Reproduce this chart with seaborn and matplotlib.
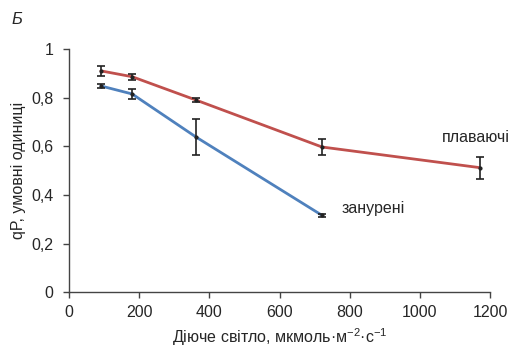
import matplotlib
matplotlib.use("Agg")
import matplotlib.pyplot as plt
import seaborn as sns
import pandas as pd

sns.set_style("ticks")
plt.rcParams['font.family'] = ['Liberation Sans', 'DejaVu Sans']
plt.rcParams['mathtext.fontset'] = 'custom'
plt.rcParams['mathtext.rm'] = 'Liberation Sans'
plt.rcParams['mathtext.it'] = 'Liberation Sans:italic'

# Data
float_x = [91, 180, 362, 721, 1171]
float_y = [0.910, 0.886, 0.790, 0.597, 0.512]
float_err = [0.020, 0.012, 0.010, 0.033, 0.045]

sub_x = [91, 180, 362, 721]
sub_y = [0.848, 0.815, 0.638, 0.316]
sub_err = [0.008, 0.020, 0.073, 0.006]

x_ticks = [0, 200, 400, 600, 800, 1000, 1200]
y_ticks = [0, 0.2, 0.4, 0.6, 0.8, 1.0]
y_ticklabels = ["0", "0,2", "0,4", "0,6", "0,8", "1"]

red = "#C0504D"
blue = "#4F81BD"

df = pd.concat([
    pd.DataFrame({"x": float_x, "y": float_y, "s": "плаваючі"}),
    pd.DataFrame({"x": sub_x, "y": sub_y, "s": "занурені"}),
])

fig = plt.figure(figsize=(5.11, 3.55), dpi=100)
ax = fig.add_axes([0.135, 0.177, 0.824, 0.685])

sns.lineplot(data=df, x="x", y="y", hue="s", palette={"плаваючі": red, "занурені": blue},
             linewidth=2, ax=ax, legend=False, sort=False)

ax.errorbar(float_x, float_y, yerr=float_err, fmt='o', ms=2, color='#222222',
            ecolor='#222222', elinewidth=1.2, capsize=3, capthick=1.2, zorder=3)
ax.errorbar(sub_x, sub_y, yerr=sub_err, fmt='o', ms=2, color='#222222',
            ecolor='#222222', elinewidth=1.2, capsize=3, capthick=1.2, zorder=3)

ax.set_xlim(0, 1200)
ax.set_ylim(0, 1)
ax.set_xticks(x_ticks)
ax.set_yticks(y_ticks)
ax.set_yticklabels(y_ticklabels)
ax.tick_params(axis='both', labelsize=11.5, length=4, width=1, color='#444444', direction='out')
ax.tick_params(axis='x', pad=5)
ax.tick_params(axis='y', pad=7)
for s in ['top', 'right']:
    ax.spines[s].set_visible(False)
for s in ['left', 'bottom']:
    ax.spines[s].set_color('#444444')
    ax.spines[s].set_linewidth(1)

ax.set_xlabel(r"Діюче світло, мкмоль·м$^{-2}$·с$^{-1}$", fontsize=11.5, labelpad=5)
ax.set_ylabel("qP, умовні одиниці", fontsize=11.5, labelpad=4)

ax.text(1160, 0.638, "плаваючі", fontsize=11.5, ha='center', va='center')
ax.text(866, 0.346, "занурені", fontsize=11.5, ha='center', va='center')

fig.text(0.023, 0.945, "Б", fontsize=12, style='italic', ha='left', va='center')

fig.savefig("out.png", dpi=100)
